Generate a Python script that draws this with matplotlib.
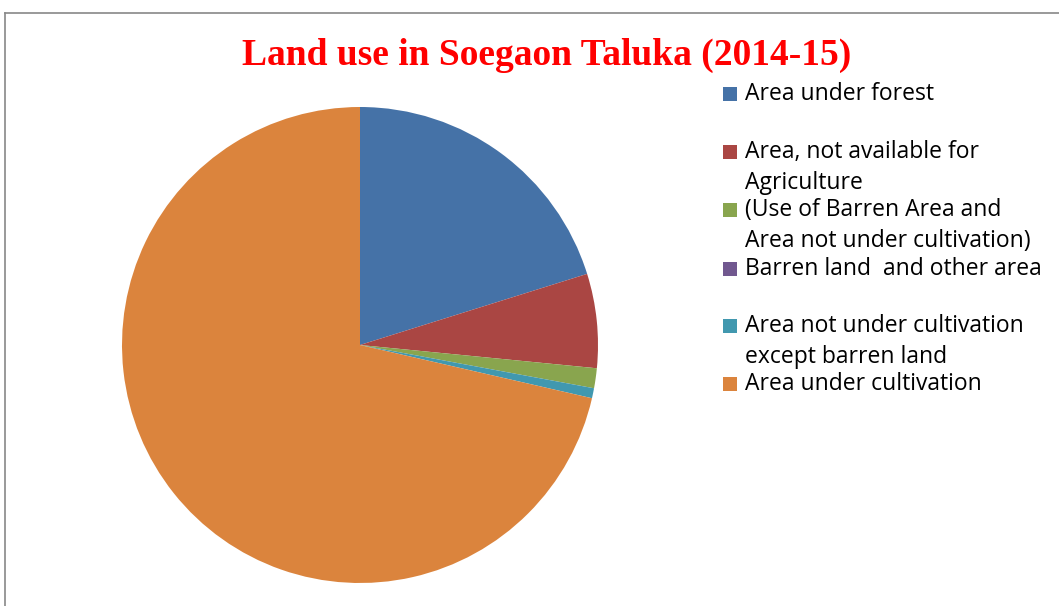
import matplotlib
matplotlib.use("Agg")
import matplotlib.pyplot as plt
from matplotlib.patches import Rectangle
from matplotlib.lines import Line2D

title = "Land use in Soegaon Taluka (2014-15)"
labels = [
    "Area under forest",
    "Area, not available for\nAgriculture",
    "(Use of Barren Area and\nArea not under cultivation)",
    "Barren land  and other area",
    "Area not under cultivation\nexcept barren land",
    "Area under cultivation",
]
values = [20.17, 6.39, 1.35, 0.0, 0.68, 71.41]
colors = ["#4572A7", "#AA4643", "#89A54E", "#71588F", "#4198AF", "#DB843D"]

W, H = 1059, 606
fig = plt.figure(figsize=(W / 100, H / 100), dpi=100)

# frame lines
fig.add_artist(Line2D([4.5 / W, 4.5 / W], [0, 1 - 12.5 / H], color="#888888", lw=1.2, transform=fig.transFigure))
fig.add_artist(Line2D([4.5 / W, 1], [1 - 12.5 / H, 1 - 12.5 / H], color="#888888", lw=1.2, transform=fig.transFigure))

cx, cy, r = 360, 345, 238
ax = fig.add_axes([(cx - r) / W, (H - cy - r) / H, 2 * r / W, 2 * r / H])
ax.pie(values, colors=colors, startangle=90, counterclock=False,
       wedgeprops=dict(linewidth=0), radius=1)
ax.set_xlim(-1, 1)
ax.set_ylim(-1, 1)
ax.set_aspect("equal")
ax.axis("off")

fig.text(547 / W, 1 - 55 / H, title, ha="center", va="center", color="red",
         fontsize=27, fontweight="bold", family="Liberation Serif")

ycenters = [94, 152, 210, 269, 326, 384]
for lab, col, yc in zip(labels, colors, ycenters):
    fig.add_artist(Rectangle((723 / W, 1 - (yc + 7) / H), 14 / W, 14 / H,
                             facecolor=col, edgecolor="none", transform=fig.transFigure))
    for i, line in enumerate(lab.split("\n")):
        fig.text(745 / W, 1 - (yc + i * 31) / H, line, ha="left", va="center",
                 fontsize=16.5, family="Open Sans", color="black")

fig.savefig("out.png", dpi=100)
